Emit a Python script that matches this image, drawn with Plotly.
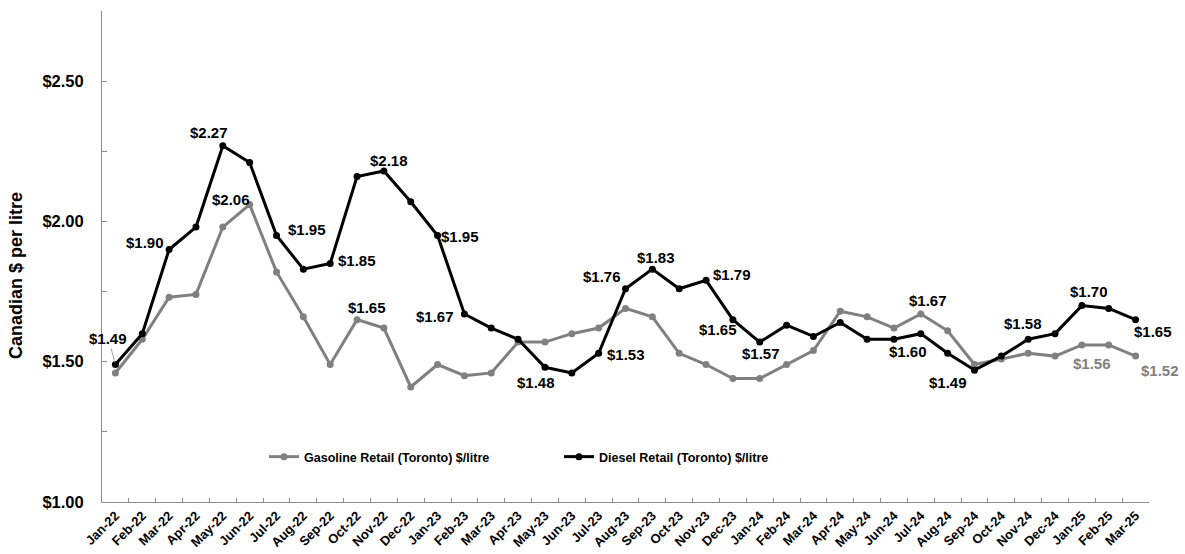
import plotly.graph_objects as go

months = ["Jan-22", "Feb-22", "Mar-22", "Apr-22", "May-22", "Jun-22", "Jul-22", "Aug-22",
          "Sep-22", "Oct-22", "Nov-22", "Dec-22", "Jan-23", "Feb-23", "Mar-23", "Apr-23",
          "May-23", "Jun-23", "Jul-23", "Aug-23", "Sep-23", "Oct-23", "Nov-23", "Dec-23",
          "Jan-24", "Feb-24", "Mar-24", "Apr-24", "May-24", "Jun-24", "Jul-24", "Aug-24",
          "Sep-24", "Oct-24", "Nov-24", "Dec-24", "Jan-25", "Feb-25", "Mar-25"]

gasoline = [1.46, 1.58, 1.73, 1.74, 1.98, 2.06, 1.82, 1.66, 1.49, 1.65, 1.62, 1.41,
            1.49, 1.45, 1.46, 1.57, 1.57, 1.60, 1.62, 1.69, 1.66, 1.53, 1.49, 1.44,
            1.44, 1.49, 1.54, 1.68, 1.66, 1.62, 1.67, 1.61, 1.49, 1.51, 1.53, 1.52,
            1.56, 1.56, 1.52]

diesel = [1.49, 1.60, 1.90, 1.98, 2.27, 2.21, 1.95, 1.83, 1.85, 2.16, 2.18, 2.07,
          1.95, 1.67, 1.62, 1.58, 1.48, 1.46, 1.53, 1.76, 1.83, 1.76, 1.79, 1.65,
          1.57, 1.63, 1.59, 1.64, 1.58, 1.58, 1.60, 1.53, 1.47, 1.52, 1.58, 1.60,
          1.70, 1.69, 1.65]

# data labels: (series, month, text)
label_series = ["d", "d", "g", "d", "d", "g", "d", "d", "d",
                "d", "d", "d", "d", "d", "d", "d",
                "d", "g", "d", "d", "d", "d", "g", "g"]
label_months = ["Mar-22", "May-22", "Jun-22", "Jul-22", "Sep-22", "Oct-22", "Nov-22", "Jan-23", "Feb-23",
                "May-23", "Jul-23", "Aug-23", "Sep-23", "Nov-23", "Dec-23", "Jan-24",
                "Jul-24", "Jul-24", "Sep-24", "Nov-24", "Jan-25", "Mar-25", "Jan-25", "Mar-25"]
label_texts = ["$1.90", "$2.27", "$2.06", "$1.95", "$1.85", "$1.65", "$2.18", "$1.95", "$1.67",
               "$1.48", "$1.53", "$1.76", "$1.83", "$1.79", "$1.65", "$1.57",
               "$1.60", "$1.67", "$1.49", "$1.58", "$1.70", "$1.65", "$1.56", "$1.52"]
# pixel offsets of the label centres from their points (style)
label_dx = [-24, -14, -19, 30, 27, 10, 5, 22, -29,
            -9, 27, -24, 4, 26, -15, 1,
            -13, 7, -27, -5, 7, 17, 10, 24]
label_dy = [-7, -13, -5, -6, -3, -12, -10, 1, 2,
            15, 1, -12, -12, -6, 10, 11,
            18, -14, 12, -16, -14, 12, 19, 14]

GAS = "#808080"
DIE = "#000000"
FONT = "Liberation Sans, Arial, sans-serif"

fig = go.Figure()
fig.add_trace(go.Scatter(
    x=months, y=gasoline, mode="lines+markers",
    name="Gasoline Retail (Toronto) $/litre",
    line=dict(color=GAS, width=3), marker=dict(color=GAS, size=7)))
fig.add_trace(go.Scatter(
    x=months, y=diesel, mode="lines+markers",
    name="Diesel Retail (Toronto) $/litre",
    line=dict(color=DIE, width=3), marker=dict(color=DIE, size=7)))

annotations = []
for s, m, t, dx, dy in zip(label_series, label_months, label_texts, label_dx, label_dy):
    i = months.index(m)
    yv = diesel[i] if s == "d" else gasoline[i]
    col = "#000000"
    if m in ("Jan-25", "Mar-25") and s == "g":
        col = GAS
    annotations.append(dict(
        x=m, y=yv, xref="x", yref="y", text=t, showarrow=False,
        xshift=dx, yshift=-dy,
        font=dict(family=FONT, size=15, color=col, weight="bold")))

# Jan-22 label with leader line
annotations.append(dict(
    x=months[0], y=diesel[0], xref="x", yref="y", text="$" + f"{diesel[0]:.2f}",
    showarrow=True, arrowhead=0, arrowwidth=1, arrowcolor="#a0a0a0",
    ax=-7, ay=-26, standoff=2,
    font=dict(family=FONT, size=15, color="#000000", weight="bold")))

W, H = 1185, 554
ML, MR, MT, MB = 102, 36, 11, 52
pw, ph = W - ML - MR, H - MT - MB

# y-axis title
annotations.append(dict(
    x=(16 - ML) / pw, y=(H - MB - 276) / ph, xref="paper", yref="paper",
    xanchor="center", yanchor="middle",
    text="Canadian $ per litre", showarrow=False, textangle=-90,
    font=dict(family=FONT, size=18, color="#000000", weight="bold")))

fig.update_layout(
    width=W, height=H,
    margin=dict(l=ML, r=MR, t=MT, b=MB, pad=0, autoexpand=False),
    plot_bgcolor="white", paper_bgcolor="white",
    font=dict(family=FONT, color="#000000"),
    showlegend=True,
    legend=dict(
        orientation="h", x=(264 - ML) / pw, xanchor="left",
        y=(H - MB - 457) / ph, yanchor="middle",
        bgcolor="rgba(0,0,0,0)",
        font=dict(family=FONT, size=12.5, color="#000000", weight="bold"),
        itemwidth=30, entrywidth=250, entrywidthmode="pixels"),
    annotations=annotations,
    xaxis=dict(
        type="category", range=[-0.5, len(months) - 0.5], autorange=False,
        showline=True, linecolor="#8c8c8c", linewidth=1,
        showgrid=False, zeroline=False, automargin=False,
        ticks="inside", ticklen=4, tickcolor="#8c8c8c", tickson="boundaries",
        tickangle=-45,
        tickfont=dict(family=FONT, size=13, color="#000000", weight="bold")),
    yaxis=dict(
        range=[1.0, 2.75], autorange=False, dtick=0.5, tick0=1.0,
        tickprefix="$", tickformat=".2f", automargin=False,
        showline=True, linecolor="#8c8c8c", linewidth=1,
        showgrid=False, zeroline=False,
        ticks="inside", ticklen=5, tickcolor="#8c8c8c",
        ticklabelstandoff=14,
        minor=dict(dtick=0.25, tick0=1.0, ticks="inside", ticklen=5, tickcolor="#8c8c8c",
                   showgrid=False),
        tickfont=dict(family=FONT, size=16.5, color="#000000", weight="bold")),
)

fig.write_html("out.html",
               config={"displayModeBar": False},
               post_script="document.body.style.margin='0px';document.body.style.overflow='hidden';")
